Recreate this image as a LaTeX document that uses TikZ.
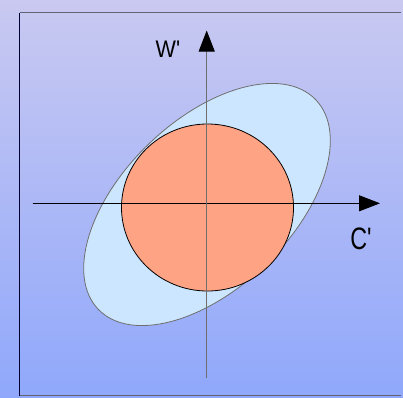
\documentclass[tikz,border=0pt]{standalone}
\usepackage{fontspec}
\setmainfont{Liberation Sans}
\usetikzlibrary{arrows.meta}
\definecolor{bgtop}{RGB}{201,201,241}
\definecolor{bgbot}{RGB}{144,168,251}
\definecolor{ellfill}{RGB}{204,230,255}
\definecolor{circfill}{RGB}{255,163,133}
\definecolor{axisgray}{RGB}{110,110,110}
\definecolor{framegray}{RGB}{100,100,115}
\begin{document}
\begin{tikzpicture}[x=1pt, y=-1pt, >={Triangle[length=21pt,width=16pt]},
    every node/.style={font=\fontsize{24}{28}\selectfont, inner sep=0pt}]
        \shade[top color=bgtop, bottom color=bgbot] (0,0) rectangle (403,397);
        \useasboundingbox (0,0) rectangle (403,397);
        % frame
        \draw[framegray, line width=1.2pt] (401,12.5) -- (19.5,12.5);
        \draw[framegray, line width=1.2pt] (19.5,395.5) -- (401,395.5);
        \draw[black!80!blue, line width=1.2pt] (19.5,12.5) -- (19.5,395.5);
        % regions
        \draw[axisgray, fill=ellfill, line width=0.8pt, rotate around={44:(207,204.5)}]
            (207,204.5) ellipse [x radius=151, y radius=84];
        \draw[black, fill=circfill, line width=0.8pt] (207.5,207.5) ellipse [x radius=86, y radius=83.5];
        % axes
        \coordinate (cmin) at (32.5,203.3);
        \coordinate (cmax) at (380,203.3);
        \coordinate (wmin) at (206.7,378);
        \coordinate (wmax) at (206.7,30.5);
        \draw[->, black, line width=0.9pt] (cmin)--(cmax);
        \draw[->, axisgray, line width=1pt, -{Triangle[length=21pt,width=16pt,color=black]}] (wmin)--(wmax);
        \node (wlabel) at (168,49) {\scalebox{0.9}[1]{W\textquotesingle}};
        \node[font=\fontsize{31}{35}\selectfont] (clabel) at (361,238.5) {\scalebox{0.75}[1]{C\textquotesingle}};
    \end{tikzpicture}
\end{document}
